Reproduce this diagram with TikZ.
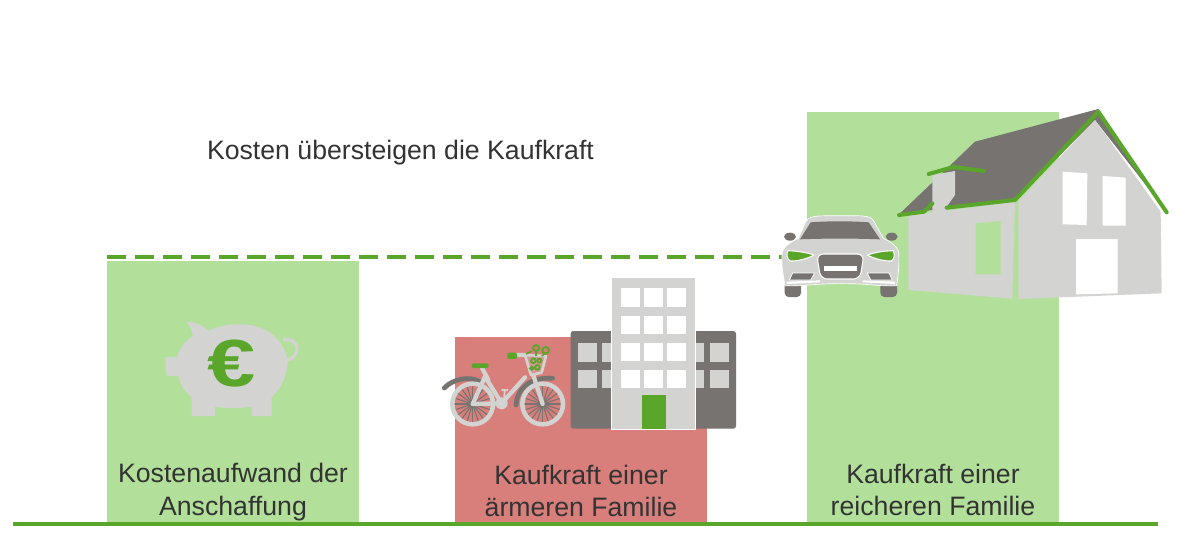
\documentclass[tikz,border=0pt]{standalone}
\usepackage{fontspec}
\setmainfont{Liberation Sans}
\definecolor{barGreen}{HTML}{B2E09A}
\definecolor{barRed}{HTML}{D87F7C}
\definecolor{lineGreen}{HTML}{5AA62B}
\definecolor{lightGrey}{HTML}{D3D3D1}
\definecolor{darkGrey}{HTML}{767370}
\definecolor{textGrey}{HTML}{333333}
\tikzset{
  label text/.style={text=textGrey,align=center,inner sep=0pt,font=\fontsize{20}{24.4}\selectfont},
  green stroke/.style={draw=lineGreen,line width=3pt,line cap=round,line join=round},
  zoomed/.style={x=0.25pt,y=-0.25pt},
}
\begin{document}
\begin{tikzpicture}[x=0.75pt,y=-0.75pt]
\useasboundingbox (0,0) rectangle (1200,557);
% bars
\fill[barGreen] (107,261) rectangle (359,523);
\fill[barRed] (455,337) rectangle (707,523);
\fill[barGreen] (807,112) rectangle (1059,523);
% base line and dashed line
\coordinate (baseL) at (13,524);
\coordinate (baseR) at (1158,524);
\draw[lineGreen,line width=3pt] (baseL) -- (baseR);
\coordinate (costL) at (107,257);
\coordinate (costR) at (782,257);
\draw[lineGreen,line width=3pt,dash pattern=on 14pt off 7pt] (costL) -- (costR);
% labels
\node[label text] (title) at (400.5,153) {Kosten übersteigen die Kaufkraft};
\node[label text] (cost) at (233,492) {Kostenaufwand der\\Anschaffung};
\node[label text] (poor) at (581,491) {Kaufkraft einer\\ärmeren Familie};
\node[label text] (rich) at (933,490) {Kaufkraft einer\\reicheren Familie};
% piggy bank
\begin{scope}[shift={(150,310)},zoomed]
\fill[lightGrey] (108,35) .. controls (130,35) and (155,42) .. (175,62)
  .. controls (240,32) and (335,35) .. (380,85)
  .. controls (425,130) and (425,200) .. (365,262)
  -- (365,318) -- (305,318) -- (305,290)
  .. controls (270,296) and (230,296) .. (195,290)
  -- (195,318) -- (125,318) -- (125,262)
  .. controls (105,245) and (92,230) .. (85,198)
  -- (50,198) -- (45,142) -- (82,140)
  .. controls (88,115) and (105,95) .. (128,78)
  .. controls (128,60) and (118,45) .. (108,35) -- cycle;
\draw[lightGrey,line width=2.6pt,line cap=round] (402,90) .. controls (432,85) and (445,105) .. (440,125) .. controls (435,140) and (425,148) .. (410,150);
\node[inner sep=0pt,text=lineGreen,font=\bfseries\fontsize{50}{50}\selectfont] (euro) at (245,162) {\scalebox{1.3}[1]{€}};
\end{scope}
% bicycle and buildings
\begin{scope}[shift={(430,270)},zoomed]
\fill[darkGrey,rounded corners=2pt] (422,183) rectangle (918,476);
\foreach \xa in {445,517,767,840}
  \foreach \ya in {220,300}
    \fill[lightGrey] (\xa,\ya) rectangle +(56,55);
\fill[lightGrey,draw=white,line width=.8pt] (545,22) rectangle (797,478);
\foreach \xa in {573,643,712}
  \foreach \ya in {55,137,218,300}
    \fill[white] (\xa,\ya) rectangle +(56,55);
\fill[lineGreen] (637,376) rectangle (707,476);
% fenders
\draw[darkGrey,line width=3.6pt,line cap=round] (43,354) .. controls (70,325) and (120,318) .. (150,335);
\draw[darkGrey,line width=3.6pt,line cap=round] (258,405) .. controls (262,345) and (315,320) .. (368,325);
% spokes
\foreach \cx in {128,338}{
  \foreach \ang in {0,18,...,342}
    \draw[darkGrey,line width=.8pt] (\cx,402) -- ++(\ang:58);
  \draw[lightGrey,line width=3.4pt] (\cx,402) circle (61);
}
% frame
\draw[lightGrey,line width=3.2pt,line cap=round,line join=round]
  (128,402) -- (165,320) -- (215,400) -- (285,322)
  (155,292) -- (175,330)
  (128,402) -- (215,400)
  (338,402) -- (290,255) -- (262,255);
\draw[lightGrey,line width=1.4pt] (222,400) -- (224,360) (214,360) -- (234,360);
\fill[lightGrey] (215,400) circle (18);
\fill[lineGreen,rounded corners=1.5pt] (125,280) rectangle (176,294);
\fill[lineGreen,rounded corners=1.5pt] (232,248) rectangle (261,267);
% basket
\draw[lightGrey,line width=2pt,line join=round,fill=barRed!70!lightGrey] (285,255) -- (348,258) -- (335,308) -- (303,315) -- cycle;
\foreach \fx/\fy/\fr in {318/234/9,347/241/10,310/272/7,328/272/6,322/292/7,305/295/5}
  \draw[lineGreen,line width=1.4pt] (\fx,\fy) circle (\fr);
\draw[lineGreen,line width=1.2pt] (288,252) -- (305,243) (318,245) -- (318,258) (347,250) -- (335,258);
\end{scope}
% house
\begin{scope}[shift={(770,95)},zoomed]
\fill[darkGrey] (385,360) -- (615,140) -- (985,42) -- (1190,350) -- (975,75) -- (735,315) -- (530,338) -- (487,345) -- cycle;
\fill[lightGrey] (415,362) -- (735,320) -- (727,611) -- (415,585) -- cycle;
\fill[lightGrey] (745,318) -- (975,75) -- (1172,350) -- (1175,595) -- (745,612) -- cycle;
\fill[lightGrey] (487,240) -- (555,228) -- (555,300) -- (528,338) -- (528,350) -- (487,358) -- cycle;
\fill[white] (878,230) -- (952,235) -- (950,390) -- (878,388) -- cycle;
\fill[white] (998,243) -- (1067,248) -- (1067,392) -- (998,392) -- cycle;
\fill[white] (918,432) -- (1043,432) -- (1043,595) -- (918,598) -- cycle;
\fill[barGreen] (617,385) -- (692,378) -- (692,538) -- (617,538) -- cycle;
\draw[green stroke] (387,360) -- (462,350) -- (487,325);
\draw[green stroke] (530,338) -- (735,315) -- (985,50) -- (1190,352);
\draw[green stroke] (476,237) -- (550,216) -- (642,228);
% car
\fill[darkGrey,rounded corners=3pt] (44,560) rectangle (93,606);
\fill[darkGrey,rounded corners=3pt] (331,560) rectangle (381,606);
\fill[darkGrey] (60,425) ellipse (18 and 12);
\fill[darkGrey] (365,425) ellipse (18 and 12);
\fill[lightGrey,draw=white,line width=.5pt] (45,572)
  .. controls (40,540) and (32,510) .. (37,470)
  .. controls (45,450) and (65,440) .. (85,430)
  -- (105,385) .. controls (115,362) and (130,362) .. (215,362)
  .. controls (295,362) and (305,362) .. (315,385)
  -- (340,430) .. controls (360,440) and (380,450) .. (386,472)
  .. controls (388,510) and (385,540) .. (380,572)
  .. controls (320,575) and (300,565) .. (215,566)
  .. controls (130,565) and (100,575) .. (45,572) -- cycle;
\fill[darkGrey] (90,433) -- (122,382) .. controls (170,378) and (250,378) .. (296,382) -- (330,433) .. controls (250,430) and (170,430) .. (90,433) -- cycle;
\draw[white,line width=.8pt,fill=lineGreen,line join=round] (53,467) .. controls (80,468) and (110,472) .. (132,480) .. controls (115,490) and (85,499) .. (60,498) .. controls (50,490) and (50,480) .. (53,467) -- cycle;
\draw[white,line width=.8pt,fill=lineGreen,line join=round] (370,467) .. controls (340,468) and (315,472) .. (292,480) .. controls (310,490) and (340,499) .. (365,498) .. controls (374,490) and (374,480) .. (370,467) -- cycle;
\draw[white,line width=.8pt,fill=darkGrey,rounded corners=5pt] (140,477) -- (282,477) -- (270,552) -- (152,552) -- cycle;
\fill[white] (162,512) rectangle (260,528);
\draw[white,line width=.6pt,fill=darkGrey,line join=round] (68,534) -- (134,534) -- (122,555) -- (58,555) -- cycle;
\draw[white,line width=.6pt,fill=darkGrey,line join=round] (292,534) -- (357,534) -- (367,555) -- (302,555) -- cycle;
\fill[white] (50,560) -- (150,556) -- (150,562) -- (50,567) -- cycle;
\fill[white] (375,560) -- (278,556) -- (278,562) -- (375,567) -- cycle;
\end{scope}
\end{tikzpicture}
\end{document}
